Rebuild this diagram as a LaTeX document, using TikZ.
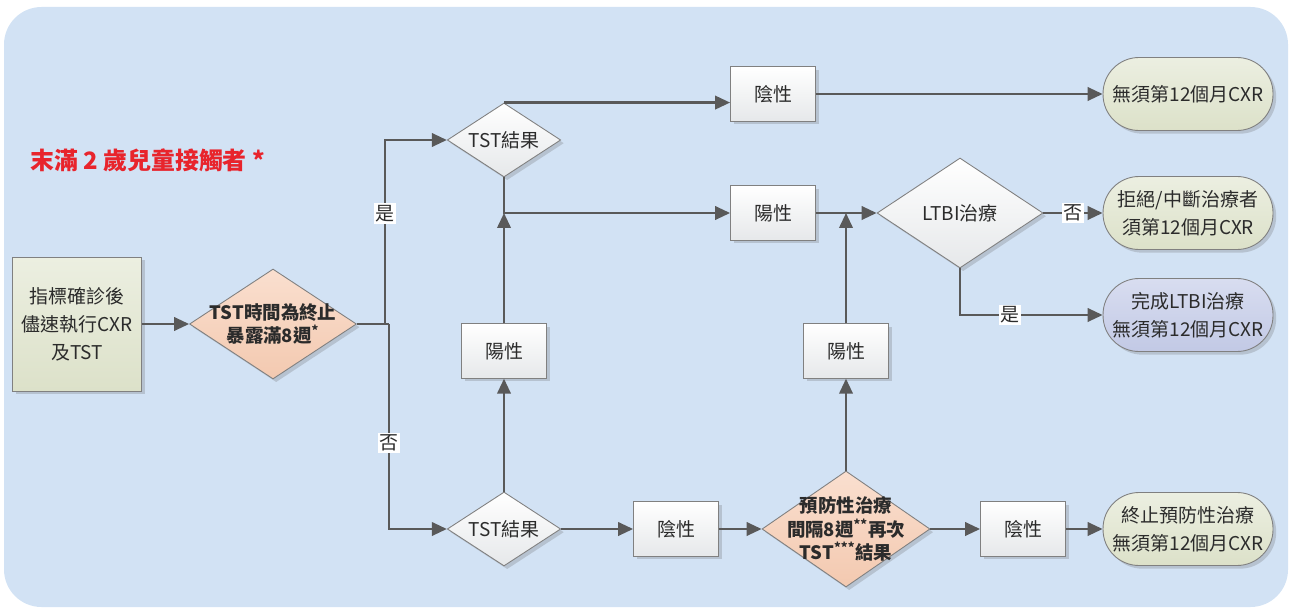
\documentclass[tikz,border=0pt]{standalone}
\usepackage{fontspec}
\setmainfont{Noto Sans CJK TC}
\usetikzlibrary{arrows.meta,shapes.geometric,shadows,positioning}
\definecolor{bgblue}{HTML}{D2E2F4}
\definecolor{linegray}{HTML}{595959}
\definecolor{edgegray}{HTML}{808080}
\definecolor{txtgray}{HTML}{2B2B2B}
\definecolor{titlered}{HTML}{E8242C}
\definecolor{peachtop}{HTML}{FADFCF}
\definecolor{peachbot}{HTML}{F3C9B0}
\definecolor{olivetop}{HTML}{ECEFE1}
\definecolor{olivebot}{HTML}{DCE1C9}
\definecolor{lilactop}{HTML}{D8DDF0}
\definecolor{lilacbot}{HTML}{C2C9E5}
\definecolor{boxbot}{HTML}{E6E8EA}

\begin{document}
\begin{tikzpicture}[x=0.02cm, y=-0.02cm,
  every node/.style={font=\fontsize{10.8}{16}\selectfont, text=txtgray, align=center},
  softshadow/.style={drop shadow={shadow xshift=1.8pt, shadow yshift=-1.8pt, opacity=0.25, fill=black!60}},
  result/.style={draw=edgegray, line width=0.5pt, top color=white, bottom color=boxbot,
    minimum width=1.7cm, minimum height=1.09cm, inner sep=0pt, softshadow},
  query/.style={diamond, shape aspect=1.5, draw=edgegray, line width=0.5pt, top color=white,
    bottom color=boxbot, inner sep=-0.5cm, softshadow},
  strong/.style={query, top color=peachtop, bottom color=peachbot,
    font=\fontsize{10.5}{13.5}\selectfont\bfseries},
  finish/.style={draw=edgegray, line width=0.5pt, rounded corners=0.72cm, minimum width=3.4cm,
    minimum height=1.46cm, inner sep=0pt, top color=olivetop, bottom color=olivebot, softshadow},
  flow/.style={draw=linegray, line width=1.3pt, -{Triangle[length=0.3cm, width=0.27cm]}},
  tag/.style={fill=white, inner sep=1pt, font=\fontsize{10.8}{12}\selectfont}]

  \useasboundingbox (0,0) rectangle (1290,608);
  \fill[bgblue, rounded corners=0.75cm] (4,7) rectangle (1288,607);

  \node[anchor=west, text=titlered, font=\fontsize{13.6}{16}\selectfont\bfseries] (title) at (24,160)
    {末滿 2 歲兒童接觸者 *};

  % left column
  \node[draw=edgegray, line width=0.5pt, top color=olivetop, bottom color=olivebot, softshadow,
    minimum width=2.58cm, minimum height=2.68cm, inner sep=0pt] (start) at (77,324)
    {指標確診後\\儘速執行CXR\\及TST};
  \node[strong, minimum width=3.34cm, minimum height=2.2cm] (expo) at (273,324)
    {TST時間為終止\\暴露滿8週\textsuperscript{*}};

  % TST results
  \node[query, minimum width=2.27cm, minimum height=1.48cm] (tstA) at (504,140) {TST結果};
  \node[query, minimum width=2.27cm, minimum height=1.48cm] (tstB) at (504,529) {TST結果};

  \node[result] (negA) at (773,94) {陰性};
  \node[result] (posA) at (773,213) {陽性};
  \node[result] (posB) at (504,351) {陽性};
  \node[result] (negB) at (676,529) {陰性};
  \node[strong, minimum width=3.36cm, minimum height=2.32cm] (prev) at (846,529)
    {預防性治療\\間隔8週\textsuperscript{**}再次\\TST\textsuperscript{***}結果};
  \node[result] (posC) at (846,351) {陽性};
  \node[result] (negC) at (1023,529) {陰性};
  \node[query, minimum width=3.32cm, minimum height=2.2cm] (ltbi) at (960,213) {LTBI治療};

  % outcomes
  \node[finish] (endA) at (1188,94) {無須第12個月CXR};
  \node[finish] (endB) at (1188,213) {拒絕/中斷治療者\\須第12個月CXR};
  \node[finish, top color=lilactop, bottom color=lilacbot] (endC) at (1188,315)
    {完成LTBI治療\\無須第12個月CXR};
  \node[finish] (endD) at (1188,529) {終止預防性治療\\無須第12個月CXR};

  \coordinate (yesturn) at (385,324);
  \coordinate (noturn) at (389,324);

  \draw[flow] (start) -- (expo);
  \draw[draw=linegray, line width=1.3pt] (expo.east) -- (noturn);
  \draw[flow] (yesturn) |- node[tag, pos=0.3] {是} (tstA.west);
  \draw[flow] (noturn) |- node[tag, pos=0.29] {否} (tstB.west);

  \draw[flow] (tstA.north) -- (tstA.north -| negA.west);
  \draw[flow] (tstA.south) |- (posA.west);
  \draw[flow] (tstB.north) -- (posB.south);
  \draw[flow] (posB.north) -- (posB.north |- posA.west);
  \draw[flow] (tstB.east) -- (negB.west);
  \draw[flow] (negB.east) -- (prev.west);
  \draw[flow] (prev.north) -- (posC.south);
  \draw[flow] (posC.north) -- (posC.north |- ltbi.west);
  \draw[flow] (posA.east) -- (ltbi.west);
  \draw[flow] (prev.east) -- (negC.west);
  \draw[flow] (negC.east) -- (endD.west);

  \draw[flow] (negA.east) -- (endA.west);
  \draw[flow] (ltbi.east) -- node[tag, pos=0.5] {否} (endB.west);
  \draw[flow] (ltbi.south) |- node[tag, pos=0.675] {是} (endC.west);
\end{tikzpicture}
\end{document}
